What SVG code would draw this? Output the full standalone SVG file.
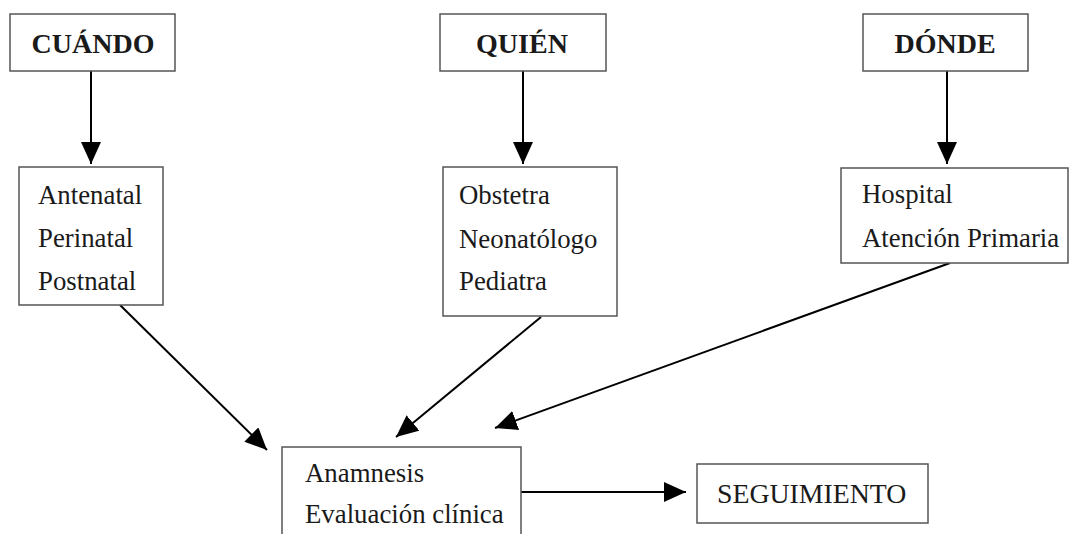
<svg xmlns="http://www.w3.org/2000/svg" width="1070" height="534" viewBox="0 0 1070 534">
<style>
.box{fill:#fff;stroke:#555;stroke-width:1.5}
.t{font-family:"Liberation Serif","Times New Roman",serif;font-size:26.8px;fill:#1a1a1a}
.h{font-family:"Liberation Serif","Times New Roman",serif;font-size:28px;font-weight:bold;fill:#1a1a1a;text-anchor:middle}
.c{stroke:#000;stroke-width:2;fill:none;marker-end:url(#ah)}
</style>
<defs>
<marker id="ah" markerUnits="userSpaceOnUse" markerWidth="22" markerHeight="20" refX="22" refY="10" orient="auto">
<path d="M0,0 L22,10 L0,20 z" fill="#000"/>
</marker>
</defs>
<rect width="1070" height="534" fill="#fff"/>
<g id="connectors">
<line class="c" x1="91" y1="71" x2="91" y2="164"/>
<line class="c" x1="523" y1="71" x2="523" y2="164"/>
<line class="c" x1="947" y1="71" x2="947" y2="164"/>
<line class="c" x1="120" y1="305" x2="267" y2="450"/>
<line class="c" x1="541" y1="317" x2="396" y2="437"/>
<line class="c" x1="950" y1="263" x2="495" y2="428"/>
<line class="c" x1="517" y1="492" x2="686" y2="492"/>
</g>
<g id="cuando">
<rect class="box" x="10" y="14" width="165" height="57"/>
<text class="h" x="93" y="53">CUÁNDO</text>
</g>
<g id="quien">
<rect class="box" x="440" y="14" width="166" height="57"/>
<text class="h" x="522" y="53">QUIÉN</text>
</g>
<g id="donde">
<rect class="box" x="863" y="14" width="165" height="57"/>
<text class="h" x="945" y="53">DÓNDE</text>
</g>
<g id="cuando-list">
<rect class="box" x="19" y="167" width="144" height="138"/>
<text class="t" x="38" y="204">Antenatal</text>
<text class="t" x="38" y="247">Perinatal</text>
<text class="t" x="38" y="290">Postnatal</text>
</g>
<g id="quien-list">
<rect class="box" x="443" y="167" width="174" height="149"/>
<text class="t" x="459" y="204">Obstetra</text>
<text class="t" x="459" y="248">Neonatólogo</text>
<text class="t" x="459" y="290">Pediatra</text>
</g>
<g id="donde-list">
<rect class="box" x="841" y="168" width="227" height="95"/>
<text class="t" x="862" y="203">Hospital</text>
<text class="t" x="862" y="247">Atención Primaria</text>
</g>
<g id="evaluacion">
<rect class="box" x="282" y="447" width="239" height="100"/>
<text class="t" x="305" y="482">Anamnesis</text>
<text class="t" x="305" y="523">Evaluación clínica</text>
</g>
<g id="seguimiento">
<rect class="box" x="697" y="464" width="231" height="59"/>
<text class="t" x="717" y="503" style="font-size:27.8px">SEGUIMIENTO</text>
</g>
</svg>
